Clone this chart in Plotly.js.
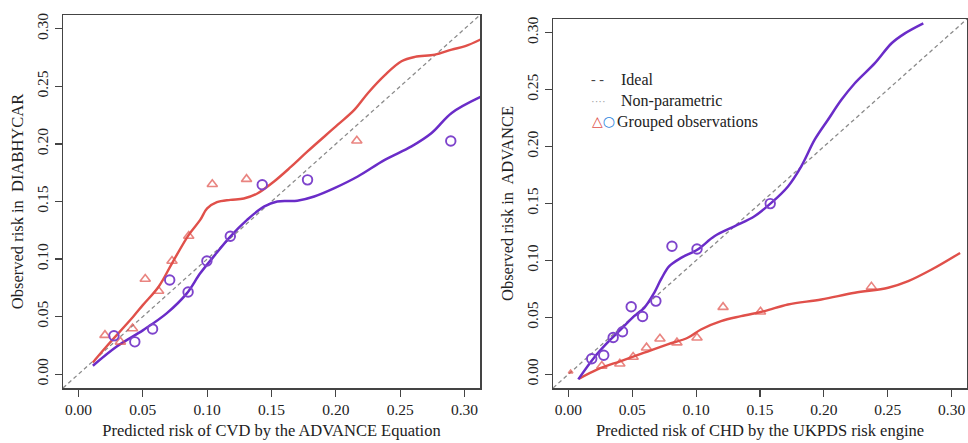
<!DOCTYPE html>
<html><head><meta charset="utf-8">
<script src="https://cdn.plot.ly/plotly-3.0.1.min.js"></script>
<style>html,body{margin:0;padding:0;background:#fff}#chart{width:968px;height:443px}</style>
</head><body><div id="chart"></div>
<script>
// ---- Left panel: ADVANCE equation in DIABHYCAR ----
const leftTriX = [0.0206,0.0326,0.042,0.0519,0.0623,0.0727,0.0857,0.104,0.1306,0.2163];
const leftTriY = [0.0339,0.0281,0.0397,0.0827,0.0722,0.0983,0.120,0.165,0.1694,0.2028];
const leftCircX = [0.0276,0.0438,0.0576,0.0709,0.0852,0.0998,0.118,0.1428,0.178,0.2893];
const leftCircY = [0.0334,0.0281,0.0392,0.0818,0.0714,0.0983,0.1198,0.1645,0.1688,0.2025];
const leftRedLineX = [0.0112,0.0216,0.0425,0.05,0.0623,0.0727,0.0857,0.0946,0.10,0.1076,0.118,0.1285,0.139,0.152,0.165,0.178,0.2015,0.2145,0.225,0.2383,0.251,0.2614,0.277,0.290,0.3005,0.3135];
const leftRedLineY = [0.0102,0.0238,0.0499,0.060,0.076,0.0963,0.121,0.134,0.144,0.1494,0.1514,0.1526,0.157,0.1674,0.180,0.1935,0.2167,0.2298,0.2443,0.260,0.2718,0.2756,0.2776,0.282,0.2849,0.2913];
const leftPurLineX = [0.0112,0.0295,0.0503,0.0685,0.0842,0.0946,0.105,0.118,0.131,0.1441,0.1545,0.170,0.1832,0.1989,0.217,0.238,0.2588,0.2744,0.290,0.3135];
const leftPurLineY = [0.0073,0.0238,0.0383,0.0528,0.0702,0.0876,0.1021,0.1195,0.134,0.1456,0.150,0.1506,0.1543,0.1616,0.1717,0.1862,0.1979,0.2095,0.2269,0.2414];

// ---- Right panel: UKPDS risk engine in ADVANCE ----
const rightTriX = [0.0018,0.0262,0.0403,0.0507,0.0612,0.0717,0.085,0.1007,0.1211,0.1504,0.2372];
const rightTriY = [0.002,0.0073,0.0093,0.0152,0.0234,0.0313,0.0278,0.0321,0.059,0.0549,0.0768];
const rightCircX = [0.0183,0.0277,0.0351,0.0424,0.0492,0.0581,0.0685,0.0811,0.1007,0.158];
const rightCircY = [0.0137,0.0167,0.0324,0.0374,0.0593,0.0508,0.0643,0.1125,0.1101,0.1499];
const rightPurLineX = [0.0078,0.0201,0.0306,0.0411,0.0515,0.0594,0.0672,0.0725,0.079,0.0882,0.1012,0.1143,0.130,0.1457,0.1588,0.1719,0.1823,0.1928,0.2032,0.2137,0.2242,0.2399,0.253,0.2634,0.2778];
const rightPurLineY = [-0.0044,0.0146,0.0278,0.0394,0.0511,0.0584,0.0716,0.0833,0.095,0.1022,0.1096,0.1212,0.130,0.1388,0.1505,0.165,0.1826,0.206,0.2235,0.241,0.2556,0.2732,0.2907,0.2994,0.3082];
const rightRedLineX = [0.0084,0.0228,0.0411,0.0594,0.0777,0.0934,0.1038,0.1195,0.1352,0.1535,0.1719,0.198,0.2242,0.2503,0.266,0.2843,0.3066];
const rightRedLineY = [-0.0038,0.0044,0.0117,0.019,0.0263,0.0321,0.0394,0.0467,0.0511,0.0555,0.0613,0.0657,0.0716,0.076,0.0818,0.092,0.1066];

const idealX = [-0.02, 0.33];
const idealY = [-0.02, 0.33];
const tickVals = [0,0.05,0.10,0.15,0.20,0.25,0.30];
const tickText = ["0.00","0.05","0.10","0.15","0.20","0.25","0.30"];

const RED = "#E0504A", PURPLE = "#6A2CC8", CIRC = "#7E44CC", BLUE = "#2E86DE";
const serif = "Liberation Serif, Times New Roman, serif";

function panel(xa, ya, triX, triY, circX, circY, rX, rY, pX, pY, triSym, triSize) {
  return [
    {x: idealX, y: idealY, xaxis: xa, yaxis: ya, mode: "lines", line: {color: "#8a8a8a", width: 1.3, dash: "4px,3px"}, hoverinfo: "skip"},
    {x: rX, y: rY, xaxis: xa, yaxis: ya, mode: "lines", line: {color: RED, width: 2.4, shape: "spline", smoothing: 1}},
    {x: pX, y: pY, xaxis: xa, yaxis: ya, mode: "lines", line: {color: PURPLE, width: 2.5, shape: "spline", smoothing: 1}},
    {x: triX, y: triY, xaxis: xa, yaxis: ya, mode: "markers", marker: {symbol: triSym, size: triSize, color: RED, line: {width: 1.6, color: RED}}},
    {x: circX, y: circY, xaxis: xa, yaxis: ya, mode: "markers", marker: {symbol: "circle-open", size: 9.5, color: CIRC, line: {width: 1.9, color: CIRC}}}
  ];
}

const leftSym = leftTriX.map(() => "triangle-up-open");
const leftSize = leftTriX.map(() => 9);
const rightSym = rightTriX.map((v, i) => i === 0 ? "triangle-up" : "triangle-up-open");
const rightSize = rightTriX.map((v, i) => i === 0 ? 4 : 9);

const data = [].concat(
  panel("x", "y", leftTriX, leftTriY, leftCircX, leftCircY, leftRedLineX, leftRedLineY, leftPurLineX, leftPurLineY, leftSym, leftSize),
  panel("x2", "y2", rightTriX, rightTriY, rightCircX, rightCircY, rightRedLineX, rightRedLineY, rightPurLineX, rightPurLineY, rightSym, rightSize)
);

function xax(domain, title, anchor) {
  return {domain: domain, anchor: anchor, range: [-0.012, 0.312], tickvals: tickVals, ticktext: tickText,
    ticks: "outside", ticklen: 7, tickcolor: "#444", tickwidth: 1.2, showgrid: false, zeroline: false,
    showline: true, linecolor: "#444", linewidth: 1.5, mirror: true,
    tickfont: {family: serif, size: 15.5, color: "#222"},
    title: {text: title, font: {family: serif, size: 16.5, color: "#222"}, standoff: 7}, automargin: false};
}
function yax(domain, title, anchor) {
  return {domain: domain, anchor: anchor, range: [-0.012, 0.312], tickvals: tickVals, ticktext: tickText,
    ticks: "outside", ticklen: 7, tickcolor: "#444", tickwidth: 1.2, showgrid: false, zeroline: false,
    showline: true, linecolor: "#444", linewidth: 1.5, mirror: true, tickangle: -90,
    tickfont: {family: serif, size: 15.5, color: "#222"},
    title: {text: title, font: {family: serif, size: 16.5, color: "#222"}, standoff: 6}, automargin: false};
}

const layout = {
  width: 968, height: 443, margin: {l: 0, r: 0, t: 0, b: 0},
  paper_bgcolor: "#fff", plot_bgcolor: "#fff", showlegend: false,
  xaxis: xax([63/968, 480/968], "Predicted risk of CVD by the ADVANCE Equation", "y"),
  yaxis: yax([1-388/443, 1-15/443], "Observed risk in  DIABHYCAR", "x"),
  xaxis2: xax([553/968, 967/968], "Predicted risk of CHD by the UKPDS risk engine", "y2"),
  yaxis2: yax([1-388/443, 1-19/443], "Observed risk in  ADVANCE", "x2"),
  annotations: [
    {xref: "paper", yref: "paper", x: 589/968, y: 1-80/443, xanchor: "left", yanchor: "middle", showarrow: false,
     text: "- -", font: {family: serif, size: 14, color: "#444"}},
    {xref: "paper", yref: "paper", x: 619/968, y: 1-80/443, xanchor: "left", yanchor: "middle", showarrow: false,
     text: "Ideal", font: {family: serif, size: 16, color: "#222"}},
    {xref: "paper", yref: "paper", x: 589/968, y: 1-101/443, xanchor: "left", yanchor: "middle", showarrow: false,
     text: "····", font: {family: serif, size: 11, color: "#999"}},
    {xref: "paper", yref: "paper", x: 619/968, y: 1-101/443, xanchor: "left", yanchor: "middle", showarrow: false,
     text: "Non-parametric", font: {family: serif, size: 16, color: "#222"}},
    {xref: "paper", yref: "paper", x: 590/968, y: 1-121/443, xanchor: "left", yanchor: "middle", showarrow: false,
     text: "<b><span style='color:" + RED + "'>△</span><span style='color:" + BLUE + "'>○</span></b>", font: {family: "DejaVu Sans", size: 14}},
    {xref: "paper", yref: "paper", x: 615/968, y: 1-122/443, xanchor: "left", yanchor: "middle", showarrow: false,
     text: "Grouped observations", font: {family: serif, size: 16, color: "#222"}}
  ]
};

Plotly.newPlot("chart", data, layout, {staticPlot: true, displayModeBar: false});
</script>
</body></html>
